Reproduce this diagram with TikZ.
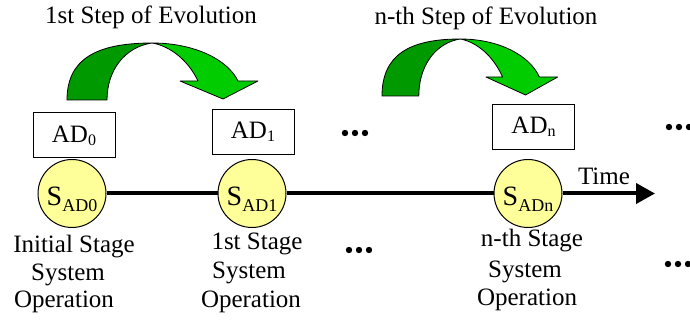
\documentclass[tikz,border=0pt]{standalone}
\usepackage{fontspec}
\setmainfont{Liberation Serif}
\usetikzlibrary{arrows.meta}

\definecolor{evodark}{RGB}{0,153,0}
\definecolor{evolight}{RGB}{0,204,0}
\definecolor{stagefill}{RGB}{255,255,153}

% lowered subscripts, as in the slide text
\newcommand\adsub[1]{\raisebox{-3pt}{\fontsize{16}{16}\selectfont #1}}
\newcommand\stsub[1]{\raisebox{-6pt}{\fontsize{18}{18}\selectfont #1}}

\tikzset{
  txt/.style={inner sep=0pt, anchor=base, font=\fontsize{25}{28}\selectfont},
  adbox/.style={draw, line width=1pt, fill=white, minimum width=82pt,
    minimum height=45pt, inner sep=0pt, font=\fontsize{25}{28}\selectfont},
  stage/.style={draw, line width=1pt, fill=stagefill, circle, minimum size=68pt,
    inner sep=0pt, text height=24pt, text depth=0pt, font=\fontsize{28}{28}\selectfont},
  timeline/.style={line width=4pt},
  evopart/.style={draw=black, line width=0.8pt, line join=round},
  % curved "step of evolution" arrow, origin at the bottom left of its tail
  evoarrow/.pic={
    \filldraw[evopart, fill=evodark]
      (0,0) .. controls (0,-40) and (28,-57) .. (85,-57)
      .. controls (58,-53) and (40,-30) .. (40,0) -- cycle;
    \filldraw[evopart, fill=evolight]
      (85,-57) .. controls (128,-57) and (161,-40) .. (171,-19)
      -- (191,-19) -- (156,-1) -- (113,-19) -- (131,-19)
      .. controls (121,-40) and (103,-54) .. (85,-57) -- cycle;
  },
  ellipsis/.pic={
    \fill (0,0) circle (3.2pt) (10,0) circle (3.2pt) (20,0) circle (3.2pt);
  }
}

\begin{document}
\begin{tikzpicture}[x=1pt,y=-1pt]
\useasboundingbox (0,0) rectangle (690,320);

% headings
\node[txt] (h1) at (151,24) {1st Step of Evolution};
\node[txt] (hn) at (486,25) {n-th Step of Evolution};

% evolution arrows
\pic at (67,100) {evoarrow};
\pic[xscale=0.92] at (382,96) {evoarrow};

% architecture descriptions
\node[adbox] (ad0) at (74,135.5) {AD\adsub{0}};
\node[adbox] (ad1) at (253,132) {AD\adsub{1}};
\node[adbox] (adn) at (533.5,127) {AD\adsub{n}};

% system stages on the time axis
\coordinate (tend) at (655,193.5);
\node[stage] (s0) at (72,193.5) {S\stsub{AD0}};
\node[stage] (s1) at (252,193.5) {S\stsub{AD1}};
\node[stage] (sn) at (528,193.5) {S\stsub{ADn}};
\draw[timeline] (s0) -- (s1);
\draw[timeline] (s1) -- (sn);
\draw[timeline, -{Triangle[length=19pt,width=20pt]}] (sn) -- (tend);
\node[txt] (time) at (604,185) {Time};

% stage captions
\node[txt] (c0a) at (74,252) {Initial Stage};
\node[txt] (c0b) at (68,280) {System};
\node[txt] (c0c) at (64,307) {Operation};
\node[txt] (c1a) at (257,249) {1st Stage};
\node[txt] (c1b) at (249,278) {System};
\node[txt] (c1c) at (251,307) {Operation};
\node[txt] (cna) at (532,247) {n-th Stage};
\node[txt] (cnb) at (525,277) {System};
\node[txt] (cnc) at (527,305) {Operation};

% continuation marks
\pic at (345,133) {ellipsis};
\pic at (349,250) {ellipsis};
\pic at (669,127) {ellipsis};
\pic at (668,264) {ellipsis};
\end{tikzpicture}
\end{document}
